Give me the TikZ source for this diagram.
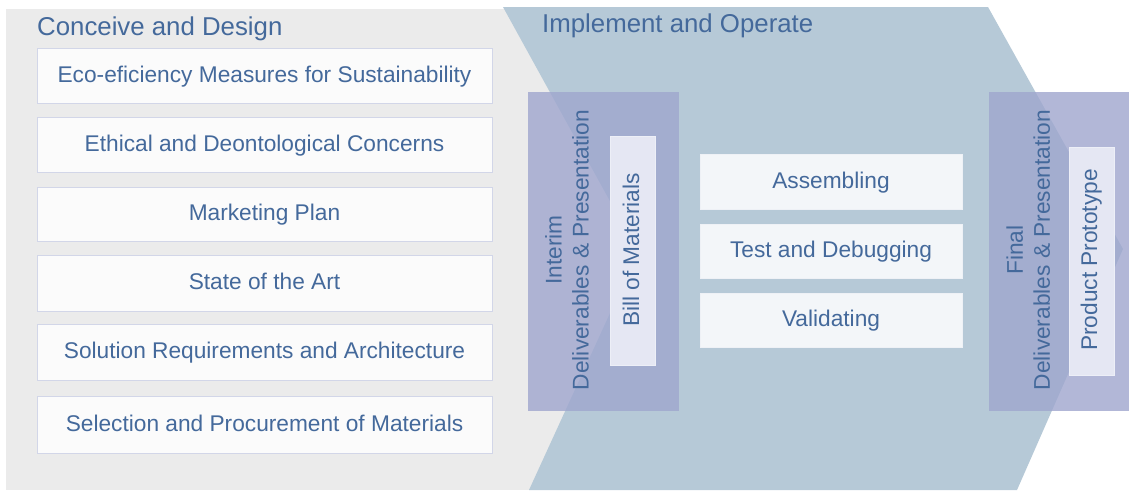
\documentclass[tikz,border=0pt]{standalone}
\usepackage{fontspec}
\setmainfont{Liberation Sans}
\definecolor{txt}{HTML}{44699B}
\definecolor{bggray}{HTML}{EBEBEB}
\definecolor{chev}{HTML}{B6C9D7}
\definecolor{lav}{HTML}{9FA6CE}
\definecolor{lbfill}{HTML}{FBFBFB}
\definecolor{lbline}{HTML}{D2D6E8}
\definecolor{innerfill}{HTML}{E5E7F3}
\definecolor{innerline}{HTML}{EDEFF7}
\definecolor{aboxfill}{HTML}{F3F6F9}
\definecolor{aboxline}{HTML}{EEF1F6}
\begin{document}
\begin{tikzpicture}[x=1pt,y=-1pt,
  boxtext/.style={text=txt, font=\fontsize{22.7}{27}\selectfont},
  lbox/.style={boxtext, draw=lbline, fill=lbfill, line width=1pt, minimum width=455pt,
    minimum height=55pt, inner sep=0pt, text height=16pt, text depth=3pt},
  abox/.style={boxtext, draw=aboxline, fill=aboxfill, line width=1pt, minimum width=262pt,
    minimum height=54pt, inner sep=0pt, text height=16pt, text depth=3pt},
  stagebox/.style={fill=lav, fill opacity=0.8, draw=none, inner sep=0pt},
  innerbox/.style={fill=innerfill, draw=innerline, line width=1pt, inner sep=0pt,
    minimum width=45pt},
  vtext/.style={boxtext, rotate=90, inner sep=0pt},
  title/.style={text=txt, font=\fontsize{25.8}{30}\selectfont, inner sep=0pt}]
\useasboundingbox (0,0) rectangle (1129,490);
\fill[white] (0,0) rectangle (1129,490);
% backgrounds
\fill[bggray] (6,9) rectangle (720,490);
\fill[chev] (503,7) -- (988,7) -- (1123,249) -- (1017,490) -- (529,490) -- (638,252) -- cycle;
% titles
\node[title, anchor=base west] (cd) at (37,35) {Conceive and Design};
\node[title, anchor=base west] (io) at (542,32.5) {Implement and Operate};
% left boxes
\node[lbox] (b1) at (264.5,75.5) {Eco-eficiency Measures for Sustainability};
\node[lbox] (b2) at (264.5,144.5) {Ethical and Deontological Concerns};
\node[lbox, minimum height=54pt] (b3) at (264.5,214) {Marketing Plan};
\node[lbox, minimum height=56pt] (b4) at (264.5,283) {State of the Art};
\node[lbox, minimum height=56pt] (b5) at (264.5,352) {Solution Requirements and Architecture};
\node[lbox, minimum height=57pt] (b6) at (264.5,425) {Selection and Procurement of Materials};
% stage boxes
\node[stagebox, minimum width=151pt, minimum height=319pt] (interim) at (603.5,251.5) {};
\node[stagebox, minimum width=140pt, minimum height=319pt] (final) at (1059,251.5) {};
\node[innerbox, minimum height=229pt] (bom) at (632.5,250.5) {};
\node[innerbox, minimum height=228pt] (proto) at (1091.5,261) {};
% vertical labels
\node[vtext, align=center] (interimlbl) at (567,250) {Interim\\Deliverables \& Presentation};
\node[vtext, align=center] (finallbl) at (1028.3,250) {Final\\Deliverables \& Presentation};
\node[vtext, anchor=base] (bomlbl) at (639,250) {Bill of Materials};
\node[vtext, anchor=base] (protolbl) at (1097,260) {Product Prototype};
% implement boxes
\node[abox, minimum height=55pt] (a1) at (831,181.5) {Assembling};
\node[abox] (a2) at (831,251) {Test and Debugging};
\node[abox] (a3) at (831,320) {Validating};
\end{tikzpicture}
\end{document}
